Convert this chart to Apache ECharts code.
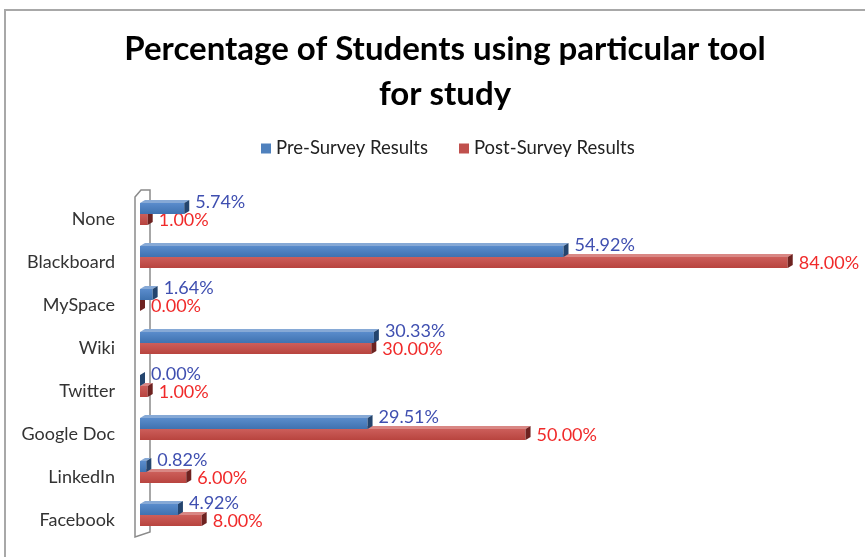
<!DOCTYPE html>
<html>
<head>
<meta charset="utf-8">
<script src="https://cdn.jsdelivr.net/npm/echarts@6/dist/echarts.min.js"></script>
<style>
html,body{margin:0;padding:0;background:#fff;}
#chart{width:865px;height:557px;}
</style>
</head>
<body>
<div id="chart"></div>
<script>
const categories = ['None','Blackboard','MySpace','Wiki','Twitter','Google Doc','LinkedIn','Facebook'];
const preSurvey = [5.74, 54.92, 1.64, 30.33, 0.00, 29.51, 0.82, 4.92];
const postSurvey = [1.00, 84.00, 0.00, 30.00, 1.00, 50.00, 6.00, 8.00];
const seriesNames = ['Pre-Survey Results','Post-Survey Results'];

const FONT = 'Lato, "Open Sans", sans-serif';
const BAR_H = 11, DX = 5, DY = 3;

function makeRender(isPre, colors, labelColor){
  return function(params, api){
    const v = api.value(0), ci = api.value(1);
    const p0 = api.coord([0, ci]);
    const p1 = api.coord([v, ci]);
    const c = p0[1];
    const top = isPre ? c - BAR_H : c;
    const x0 = p0[0], x1 = p1[0];
    const children = [
      {type:'rect', shape:{x:x0, y:top, width:Math.max(x1-x0,0), height:BAR_H},
       style:{fill:new echarts.graphic.LinearGradient(0,0,0,1,[{offset:0,color:colors.frontTop},{offset:1,color:colors.front}])}},
      {type:'polygon', shape:{points:[[x0,top],[x0+DX,top-DY],[x1+DX,top-DY],[x1,top]]},
       style:{fill:colors.top}},
      {type:'polygon', shape:{points:[[x1,top],[x1+DX,top-DY],[x1+DX,top-DY+BAR_H],[x1,top+BAR_H]]},
       style:{fill:colors.side}},
      {type:'text', style:{text:v.toFixed(2)+'%', x:x1+11, y: isPre ? c-12 : c+6,
        fill:labelColor, fontSize:18, fontFamily:FONT, verticalAlign:'middle', align:'left'}}
    ];
    return {type:'group', children};
  };
}

const chart = echarts.init(document.getElementById('chart'));
const option = {
  backgroundColor:'#fff',
  animation:false,
  title:{
    text:'Percentage of Students using particular tool\nfor study',
    left:440, top:22, textAlign:'center',
    textStyle:{fontFamily:FONT, fontWeight:'bold', fontSize:33, color:'#000', lineHeight:45}
  },
  legend:{
    data:seriesNames, top:134, left:256, itemWidth:10, itemHeight:10, itemGap:31,
    icon:'rect',
    textStyle:{fontFamily:FONT, fontSize:18.5, color:'#222'}
  },
  grid:{left:140, right:31, top:192.5, bottom:20.5, containLabel:false},
  xAxis:{type:'value', min:0, max:90, show:false},
  yAxis:{type:'category', data:categories, inverse:true,
    axisLine:{show:false}, axisTick:{show:false}, splitLine:{show:false},
    axisLabel:{fontFamily:FONT, fontSize:18, color:'#333', margin:25, verticalAlign:'top', lineHeight:10}},
  graphic:[
    {type:'rect', shape:{x:5, y:10, width:900, height:600}, style:{fill:'none', stroke:'#a8a8a8', lineWidth:2}, z:0},
    {type:'polygon', shape:{points:[[135,197],[141,190],[150,190],[150,532],[135,537]]},
     style:{fill:'#fff', stroke:'#8a8a8a', lineWidth:1.5}, z:0}
  ],
  series:[
    {name:seriesNames[0], type:'custom', z:4, color:'#4f81bd',
     renderItem:makeRender(true,{front:'#3f72b0',frontTop:'#5a8ccc',top:'#86a9d6',side:'#24456e'},'#3f4fb0'),
     encode:{x:0,y:1},
     data:preSurvey.map((v,i)=>[v,i])},
    {name:seriesNames[1], type:'custom', z:3, color:'#c0504d',
     renderItem:makeRender(false,{front:'#b8443f',frontTop:'#cc5e5a',top:'#d98784',side:'#6e2220'},'#f02a2a'),
     encode:{x:0,y:1},
     data:postSurvey.map((v,i)=>[v,i])}
  ]
};
chart.setOption(option);
</script>
</body>
</html>
